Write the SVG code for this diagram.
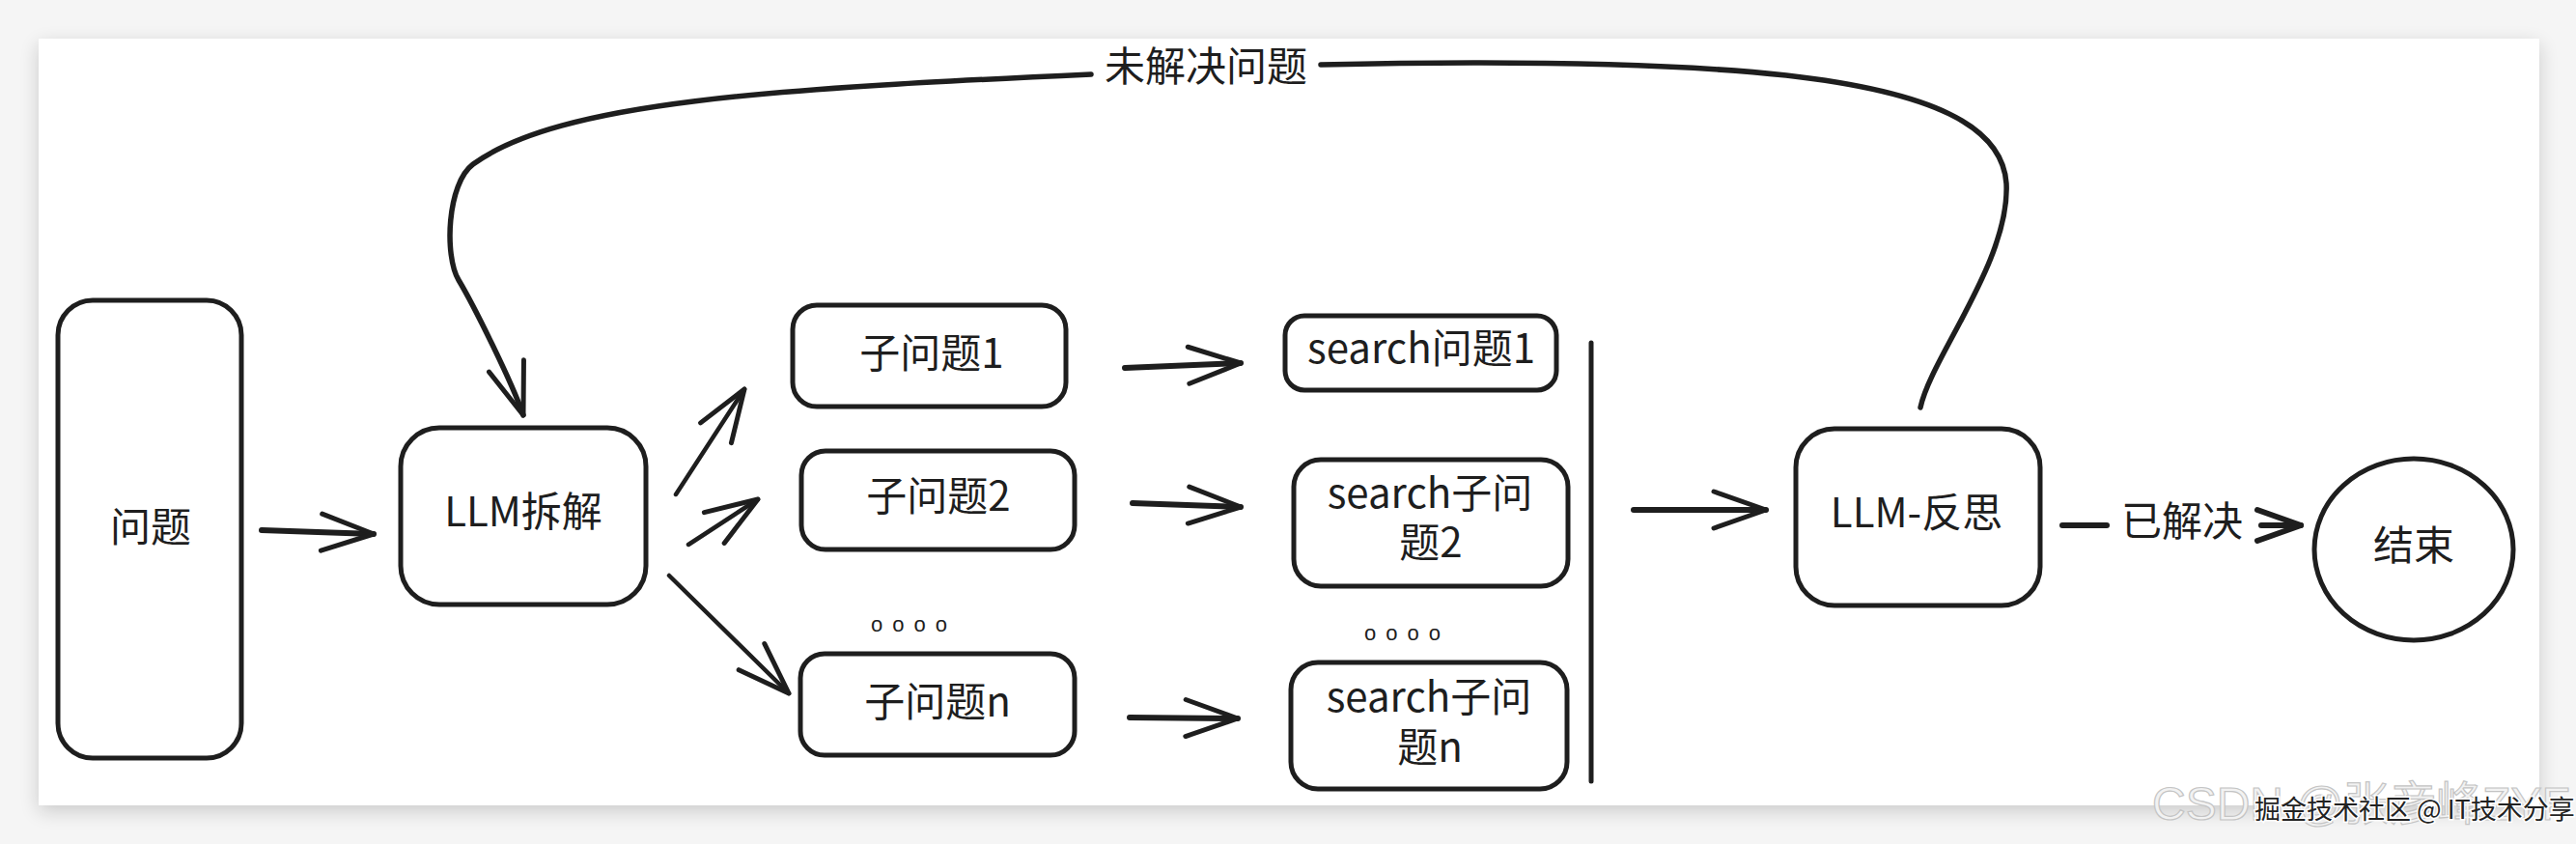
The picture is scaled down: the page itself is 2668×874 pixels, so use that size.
<svg xmlns="http://www.w3.org/2000/svg" width="2668" height="874" viewBox="0 0 2668 874">
<defs>
  <filter id="shadow" x="-5%" y="-10%" width="110%" height="130%">
    <feGaussianBlur in="SourceAlpha" stdDeviation="10"/>
    <feOffset dy="6" result="b"/>
    <feComponentTransfer><feFuncA type="linear" slope="0.18"/></feComponentTransfer>
    <feMerge><feMergeNode/><feMergeNode in="SourceGraphic"/></feMerge>
  </filter>
  <marker id="ah" markerUnits="userSpaceOnUse" orient="auto" viewBox="-64 -32 70 64" markerWidth="70" markerHeight="64" refX="0" refY="0" overflow="visible">
    <path d="M-54,-19 L0,0 L-54,19" fill="none" stroke="#1e1e1e" stroke-width="5" stroke-linecap="round" stroke-linejoin="round"/>
  </marker>
  <marker id="ahs" markerUnits="userSpaceOnUse" orient="auto" viewBox="-64 -32 70 64" markerWidth="70" markerHeight="64" refX="0" refY="0" overflow="visible">
    <path d="M-45,-16 L0,0 L-45,16" fill="none" stroke="#1e1e1e" stroke-width="6" stroke-linecap="round" stroke-linejoin="round"/>
  </marker>
</defs>
<style>
  .box { fill: #ffffff; stroke: #1e1e1e; stroke-width: 5; }
  .t { font-family: "Noto Sans CJK SC", "Noto Sans", sans-serif; font-size: 42px; fill: #1e1e1e; text-anchor: middle; }
  .dots { font-family: "Liberation Sans", sans-serif; font-size: 22px; fill: #1e1e1e; letter-spacing: 10px; }
  .c { fill: none; stroke: #1e1e1e; stroke-linecap: round; stroke-linejoin: round; }
  .w { stroke-width: 6; }
  .m { stroke-width: 4.5; }
  .wm1 { font-family: "Liberation Sans", "Noto Sans CJK SC", sans-serif; font-size: 48px; fill: #f2f2f2; stroke: #c4c4c4; stroke-width: 1.2; }
  .wm2 { font-family: "Noto Sans CJK SC", sans-serif; font-size: 27px; fill: #222222; stroke: #ffffff; stroke-width: 3; paint-order: stroke; }
</style>

<rect x="0" y="0" width="2668" height="874" fill="#f5f5f5"/>
<rect x="40" y="40" width="2590" height="794" fill="#ffffff" filter="url(#shadow)"/>

<g id="n-question">
  <rect class="box" x="60" y="311" width="190" height="474" rx="36"/>
  <text class="t" x="156" y="561">问题</text>
</g>
<g id="n-llm-split">
  <rect class="box" x="415" y="443" width="254" height="183" rx="40"/>
  <text class="t" x="542" y="545">LLM拆解</text>
</g>
<g id="n-sub1">
  <rect class="box" x="821" y="316" width="283" height="105" rx="25"/>
  <text class="t" x="965" y="381">子问题1</text>
</g>
<g id="n-sub2">
  <rect class="box" x="830" y="467" width="283" height="102" rx="25"/>
  <text class="t" x="972" y="529">子问题2</text>
</g>
<g id="n-dots-left">
  <text class="dots" x="902" y="654">oooo</text>
</g>
<g id="n-subn">
  <rect class="box" x="829" y="677" width="284" height="105" rx="25"/>
  <text class="t" x="971" y="742">子问题n</text>
</g>
<g id="n-search1">
  <rect class="box" x="1331" y="327" width="281" height="77" rx="20"/>
  <text class="t" x="1472" y="376">search问题1</text>
</g>
<g id="n-search2">
  <rect class="box" x="1340" y="476" width="284" height="131" rx="28"/>
  <text class="t"><tspan x="1481" y="526">search子问</tspan><tspan x="1482" y="577">题2</tspan></text>
</g>
<g id="n-dots-right">
  <text class="dots" x="1413" y="663">oooo</text>
</g>
<g id="n-searchn">
  <rect class="box" x="1337" y="686" width="286" height="131" rx="28"/>
  <text class="t"><tspan x="1480" y="737">search子问</tspan><tspan x="1481" y="789">题n</tspan></text>
</g>
<g id="n-join-bar">
  <path class="c" stroke-width="5" d="M1648,355 L1648,809"/>
</g>
<g id="n-llm-reflect">
  <rect class="box" x="1860" y="444" width="253" height="183" rx="40"/>
  <text class="t" x="1985" y="546">LLM-反思</text>
</g>
<g id="n-end">
  <ellipse class="box" cx="2500" cy="569" rx="103" ry="94"/>
  <text class="t" x="2500" y="580">结束</text>
</g>

<g id="connectors">
  <path class="c w" d="M271,549 L387,553" marker-end="url(#ah)"/>
  <path class="c m" d="M700,512 L771,403" marker-end="url(#ah)"/>
  <path class="c m" d="M713,564 L785,517" marker-end="url(#ah)"/>
  <path class="c m" d="M693,596 L817,718" marker-end="url(#ah)"/>
  <path class="c w" d="M1165,381 L1285,376" marker-end="url(#ah)"/>
  <path class="c w" d="M1173,521 L1285,525" marker-end="url(#ah)"/>
  <path class="c w" d="M1170,743 L1282,744" marker-end="url(#ah)"/>
  <path class="c w" d="M1692,528 L1829,528" marker-end="url(#ah)"/>
  <path class="c w" d="M2136,544 L2182,544"/>
  <path class="c w" d="M2342,544 L2383,544" marker-end="url(#ahs)"/>
  <text class="t" x="2260" y="555">已解决</text>
  <path class="c" stroke-width="5.5" d="M1989,422 C2000,370 2082,270 2078,190 C2074,130 2000,95 1850,78 C1700,62 1500,64 1368,67"/>
  <path class="c" stroke-width="5.5" d="M1130,77 C800,92 580,105 490,170 C463,190 460,265 475,290 C490,315 530,395 542,430" marker-end="url(#ah)"/>
  <text class="t" x="1249" y="84">未解决问题</text>
</g>

<g id="watermark">
  <text><tspan class="wm1" x="2229" y="849">CSDN @张彦峰ZYF</tspan><tspan class="wm2" x="2335" y="848">掘金技术社区 @ IT技术分享</tspan></text>
</g>
</svg>
